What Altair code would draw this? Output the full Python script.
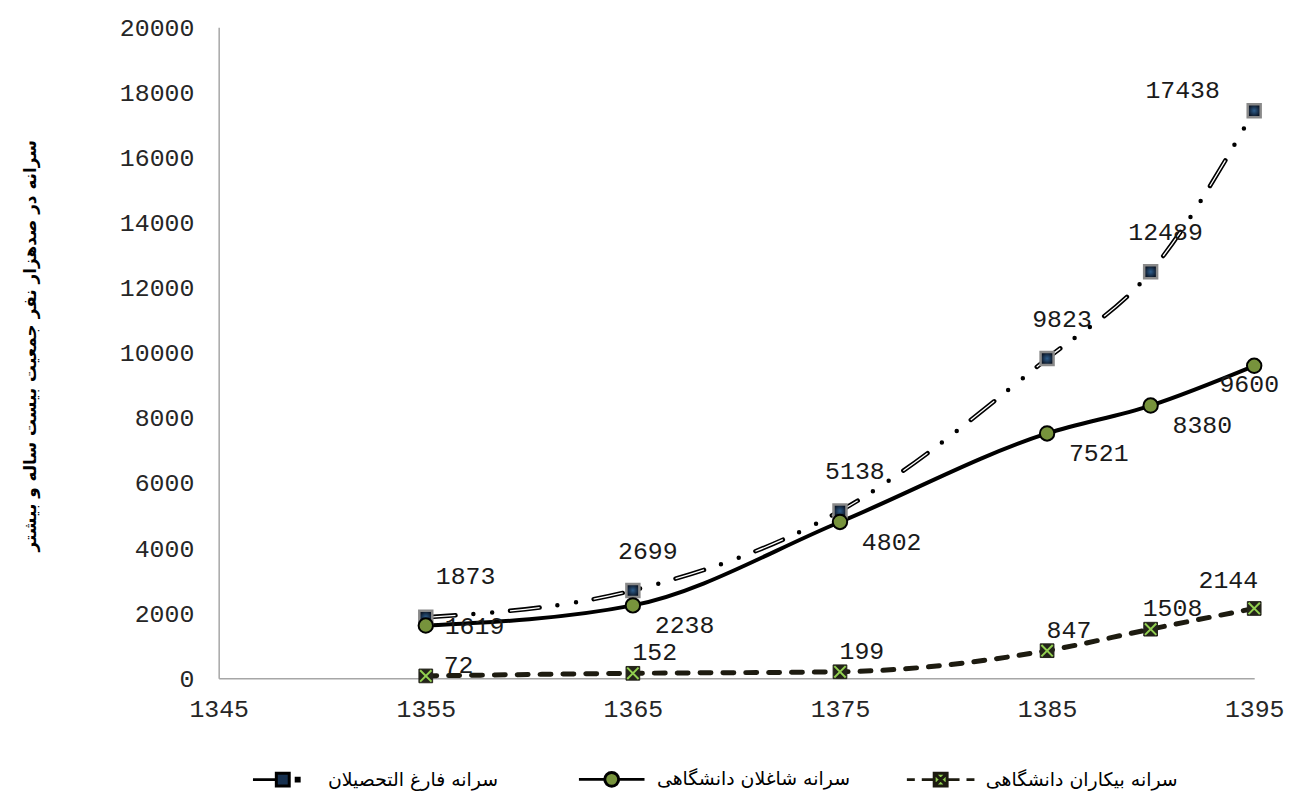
import altair as alt
import pandas as pd

# ---- data ----
years = [1355, 1365, 1375, 1385, 1390, 1395]
graduates = [1873, 2699, 5138, 9823, 12489, 17438]
employed = [1619, 2238, 4802, 7521, 8380, 9600]
unemployed = [72, 152, 199, 847, 1508, 2144]
series_names = ["سرانه فارغ التحصیلان", "سرانه شاغلان دانشگاهی", "سرانه بیکاران دانشگاهی"]
x_ticks = [1345, 1355, 1365, 1375, 1385, 1395]
y_ticks = [0, 2000, 4000, 6000, 8000, 10000, 12000, 14000, 16000, 18000, 20000]
y_title = "سرانه در صدهزار نفر جمعیت بیست ساله و بیشتر"

G, E, U = series_names
df = pd.concat([
    pd.DataFrame({"year": years, "value": graduates, "series": G}),
    pd.DataFrame({"year": years, "value": employed, "series": E}),
    pd.DataFrame({"year": years, "value": unemployed, "series": U}),
], ignore_index=True)

MONO = "Liberation Mono"
ARABIC = "DejaVu Sans"
FIRST, LAST = years[0], years[-1]

x_enc = alt.X("year:Q",
              scale=alt.Scale(domain=[1345, 1395], nice=False, zero=False),
              axis=alt.Axis(values=x_ticks, format="d", title=None, ticks=False,
                            grid=False, labelPadding=18, labelFlush=False))
y_enc = alt.Y("value:Q",
              scale=alt.Scale(domain=[0, 20000], nice=False),
              axis=alt.Axis(values=y_ticks, format="d", title=y_title, ticks=False,
                            grid=False, labelPadding=25, labelFlush=False,
                            titleX=-180, titleY=320,
                            titleFont=ARABIC, titleFontSize=17, titleFontWeight="bold",
                            titleColor="black"))

base = alt.Chart(df).encode(x=x_enc, y=y_enc)


def only(name):
    return base.transform_filter(alt.datum.series == name)


grad_black = only(G).mark_line(color="black", strokeWidth=4.5, interpolate="monotone",
                               strokeDash=[30, 18, 0, 19, 0, 18], strokeCap="round")
grad_white = only(G).mark_line(color="white", strokeWidth=1.3, interpolate="monotone",
                               strokeDash=[30, 18, 0, 19, 0, 18], strokeCap="butt")
emp_line = only(E).mark_line(color="black", strokeWidth=4, interpolate="monotone")
unemp_line = only(U).mark_line(color="#1d1b10", strokeWidth=5, interpolate="monotone",
                               strokeDash=[11, 12], strokeCap="round")

grad_pts = only(G).mark_point(shape="square", filled=True, size=170, opacity=1,
                              fill={"gradient": "radial",
                                    "stops": [{"offset": 0, "color": "#2f5f8e"},
                                              {"offset": 1, "color": "#0a1322"}]},
                              stroke="#8a8a8a", strokeWidth=2.5)
emp_pts = only(E).mark_point(shape="circle", filled=True, size=210, opacity=1,
                             fill="#77933c", stroke="black", strokeWidth=2)
unemp_sq = only(U).mark_point(shape="square", filled=True, size=190, opacity=1,
                              fill="#24241a", stroke="#24241a", strokeWidth=1)
unemp_x = only(U).mark_point(shape="M-1,-1L1,1M1,-1L-1,1", filled=False, size=130,
                             opacity=1, stroke="#92d050", strokeWidth=2)


def labels(name, first_off, mid_off, last_off):
    t = only(name).encode(text=alt.Text("value:Q", format="d"))
    style = dict(font=MONO, fontSize=25, color="#1a1a1a", align="center", baseline="middle")
    first = t.transform_filter(alt.datum.year == FIRST).mark_text(
        dx=first_off[0], dy=first_off[1], **style)
    mid = t.transform_filter((alt.datum.year != FIRST) & (alt.datum.year != LAST)).mark_text(
        dx=mid_off[0], dy=mid_off[1], **style)
    last = t.transform_filter(alt.datum.year == LAST).mark_text(
        dx=last_off[0], dy=last_off[1], **style)
    return first + mid + last


lab_g = labels(G, (40, -42), (15, -40), (-72, -21))
lab_e = labels(E, (49, 0), (52, 20), (-5, 18))
lab_u = labels(U, (33, -11), (22, -21), (-26, -29))

# legend-only layer (no drawn points: y is null), symbols drawn as custom paths
legend_paths = [
    "M-3,0L-0.75,0M-0.65,-0.65L0.65,-0.65L0.65,0.65L-0.65,0.65ZM1.35,-0.15L1.65,-0.15L1.65,0.15L1.35,0.15Z",
    "M-3.3,0L-0.7,0M0.7,0L3.3,0M-0.7,0A0.7,0.7 0 1,0 0.7,0A0.7,0.7 0 1,0 -0.7,0Z",
    "M-3.4,0L-2.6,0M-1.9,0L-0.7,0M-0.65,-0.65L0.65,-0.65L0.65,0.65L-0.65,0.65ZM-0.65,-0.65L0.65,0.65M0.65,-0.65L-0.65,0.65M0.7,0L1.9,0M2.6,0L3.4,0",
]
legend_fills = ["#16304f", "#77933c", "#92d050"]
legend_strokes = ["black", "black", "#1d1b10"]
leg = alt.Legend(orient="none", legendX=53, legendY=745, direction="horizontal",
                 columns=3, title=None, symbolSize=400, symbolStrokeWidth=3,
                 labelOffset=34, columnPadding=50,
                 gridAlign="all", labelFont=ARABIC, labelFontSize=19, labelColor="black",
                 labelLimit=400)
legend_layer = alt.Chart(df).transform_calculate(nothing="null").mark_point(
    filled=True, strokeWidth=3, size=400, opacity=1
).encode(
    x=x_enc,
    y=alt.Y("nothing:Q"),
    shape=alt.Shape("series:N", scale=alt.Scale(domain=series_names, range=legend_paths),
                    legend=leg),
    fill=alt.Fill("series:N", scale=alt.Scale(domain=series_names, range=legend_fills),
                  legend=leg),
    stroke=alt.Stroke("series:N", scale=alt.Scale(domain=series_names, range=legend_strokes),
                      legend=leg),
)

chart = alt.layer(
    grad_black, grad_white, emp_line, unemp_line,
    grad_pts, emp_pts, unemp_sq, unemp_x,
    lab_g, lab_e, lab_u, legend_layer
).properties(
    width=1042, height=655,
    background="white",
    padding={"left": 212, "top": 17, "right": 31, "bottom": 112},
    autosize=alt.AutoSizeParams(type="none"),
).configure_view(strokeWidth=0).configure_axis(
    domainColor="#a6a6a6", domainWidth=1.5,
    labelFont=MONO, labelFontSize=25, labelColor="#262626",
)

chart.save("out.html", embed_options={"renderer": "svg", "actions": False})
